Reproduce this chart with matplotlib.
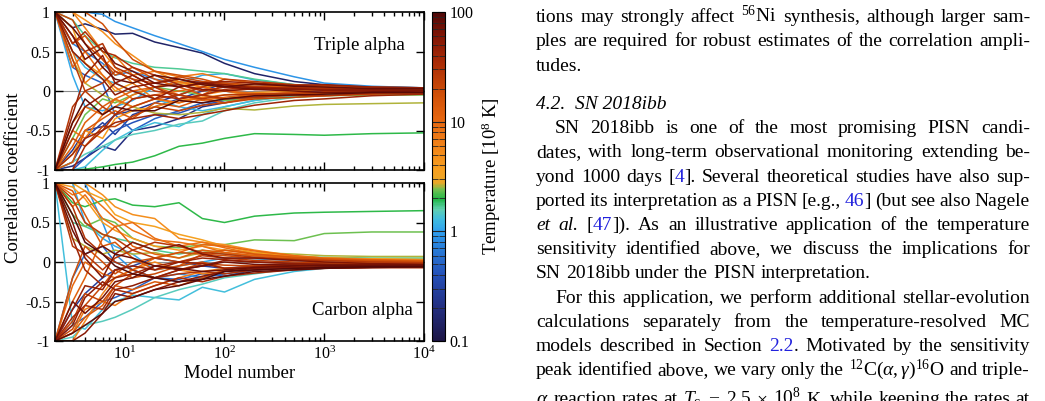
import re
import numpy as np
import matplotlib
matplotlib.use('Agg')
import matplotlib.pyplot as plt
from matplotlib.colors import LinearSegmentedColormap, LogNorm
from matplotlib.cm import ScalarMappable
from matplotlib.ticker import LogLocator, NullFormatter, LogFormatterMathtext, FuncFormatter

plt.rcParams['font.family'] = ['Liberation Serif', 'DejaVu Serif']
plt.rcParams['mathtext.fontset'] = 'custom'
plt.rcParams['mathtext.rm'] = 'Liberation Serif'
plt.rcParams['mathtext.it'] = 'Liberation Serif:italic'
plt.rcParams['mathtext.bf'] = 'Liberation Serif:bold'
plt.rcParams['axes.unicode_minus'] = False

# model number nodes
x_nodes = [2, 3, 4, 6, 8, 12, 20, 35, 60, 100, 200, 500, 1000, 3000, 10000]

# triple alpha: temperature [1e8 K] and correlation at each node
ta_temp = [2.0, 2.6, 2.4, 0.15, 0.9, 1.3, 1.5, 0.25, 0.3, 0.5, 0.7, 1.1, 1.7, 5, 8, 15, 30,
           45, 80, 40, 25, 12, 6, 4, 50, 90, 20, 35, 70, 10, 22, 18, 28, 0.4, 1.2, 7, 14,
           33, 55, 9, 3.5, 0.2]
ta_corr = [
    [-1, -1, -0.99, -0.96, -0.93, -0.9, -0.82, -0.7, -0.66, -0.6, -0.54, -0.55, -0.56, -0.54, -0.53],
    [1, 0.4, 0.1, -0.05, -0.12, -0.2, -0.28, -0.3, -0.27, -0.22, -0.24, -0.19, -0.17, -0.16, -0.15],
    [-1, -0.6, -0.3, -0.1, -0.15, -0.05, 0.05, 0.0, -0.05, -0.12, -0.1, -0.08, -0.06, -0.05, -0.05],
    [1, 0.8, 0.85, 0.78, 0.72, 0.73, 0.62, 0.55, 0.48, 0.35, 0.22, 0.12, 0.08, 0.05, 0.04],
    [1, 1, 1, 0.97, 0.88, 0.8, 0.7, 0.6, 0.5, 0.4, 0.3, 0.18, 0.1, 0.06, 0.04],
    [-1, -1, -0.96, -0.75, -0.62, -0.5, -0.4, -0.45, -0.3, -0.2, -0.12, -0.05, -0.02, 0.0, 0.02],
    [-1, -0.9, -0.8, -0.7, -0.62, -0.55, -0.5, -0.42, -0.38, -0.25, -0.15, -0.08, -0.05, -0.02, 0.0],
    [-1, -0.75, -0.5, -0.45, -0.3, -0.25, -0.15, -0.05, 0.05, 0.0, -0.05, -0.03, 0.0, 0.02, 0.02],
    [-1, -0.9, -0.6, -0.4, -0.55, -0.3, -0.2, -0.1, 0.0, 0.1, 0.05, 0.03, 0.02, 0.01, 0.02],
    [1, 0.3, 0.2, 0.1, -0.3, -0.5, -0.35, -0.25, -0.15, -0.12, -0.08, -0.06, -0.03, 0.0, 0.01],
    [1, 0.6, 0.5, 0.35, 0.2, 0.25, 0.15, 0.1, 0.12, 0.05, 0.08, 0.05, 0.04, 0.03, 0.03],
    [1, 0.2, -0.2, -0.25, -0.2, -0.12, 0.05, 0.1, 0.2, 0.22, 0.14, 0.08, 0.05, 0.03, 0.02],
    [1, 0.9, 0.7, 0.5, 0.42, 0.35, 0.3, 0.28, 0.25, 0.22, 0.15, 0.08, 0.06, 0.04, 0.03],
    [1, 1, 0.9, 0.75, 0.6, 0.45, 0.25, 0.12, 0.08, 0.1, 0.05, 0.06, 0.04, 0.03, 0.02],
    [-1, -0.5, -0.6, -0.3, -0.2, -0.05, 0.05, 0.12, 0.05, 0.0, -0.05, -0.02, -0.03, -0.01, 0.0],
    [1, 0.6, 0.7, 0.4, 0.2, 0.3, 0.15, 0.05, -0.05, 0.08, 0.06, 0.04, 0.06, 0.04, 0.03],
    [1, 0.7, 0.5, 0.6, 0.3, 0.2, 0.05, -0.1, -0.05, -0.1, -0.08, -0.05, -0.06, -0.03, -0.02],
    [-1, -0.3, 0.2, 0.45, 0.1, 0.0, -0.1, 0.05, 0.1, 0.12, 0.1, 0.07, 0.08, 0.05, 0.04],
    [1, 0.8, 0.6, 0.3, 0.15, 0.1, 0.2, 0.15, 0.08, 0.05, 0.09, 0.06, 0.05, 0.03, 0.03],
    [-1, -0.8, -0.6, -0.5, -0.4, -0.35, -0.3, -0.35, -0.3, -0.25, -0.18, -0.12, -0.1, -0.06, -0.04],
    [1, 0.4, 0.0, -0.2, -0.3, -0.2, -0.1, -0.05, 0.05, 0.15, 0.12, 0.08, 0.07, 0.05, 0.04],
    [-1, -0.7, -0.4, -0.2, -0.1, 0.0, 0.05, -0.05, -0.12, -0.08, -0.04, -0.02, -0.03, 0.0, 0.01],
    [1, 1, 0.8, 0.5, 0.3, 0.1, -0.1, -0.15, -0.05, 0.0, 0.03, 0.05, 0.03, 0.02, 0.02],
    [-1, -0.8, -0.5, -0.6, -0.35, -0.25, -0.2, -0.12, -0.08, -0.05, -0.02, 0.0, 0.02, 0.02, 0.01],
    [1, 0.5, 0.35, 0.15, -0.05, 0.05, 0.1, 0.15, 0.1, 0.08, 0.04, 0.03, 0.01, 0.02, 0.01],
    [-1, -0.4, -0.1, -0.3, -0.2, -0.25, -0.25, -0.12, -0.15, -0.1, -0.06, -0.05, -0.04, -0.02, -0.02],
    [1, 0.9, 0.6, 0.4, 0.25, 0.15, 0.1, 0.18, 0.12, 0.1, 0.08, 0.06, 0.05, 0.03, 0.02],
    [-1, -1, -0.7, -0.5, -0.3, -0.1, -0.05, -0.1, -0.05, 0.02, 0.05, 0.03, 0.02, 0.02, 0.01],
    [1, 0.7, 0.4, 0.55, 0.35, 0.25, 0.1, 0.05, 0.1, 0.06, 0.02, 0.0, -0.02, -0.01, 0.0],
    [1, 0.3, 0.5, 0.2, 0.05, -0.1, -0.05, 0.0, 0.05, 0.0, -0.03, -0.04, -0.02, -0.01, 0.0],
    [-1, -0.6, -0.7, -0.45, -0.45, -0.32, -0.2, -0.25, -0.18, -0.15, -0.1, -0.08, -0.06, -0.04, -0.03],
    [1, 1, 1, 0.85, 0.65, 0.4, 0.25, 0.2, 0.15, 0.08, 0.05, 0.04, 0.03, 0.02, 0.02],
    [-1, -0.2, 0.0, 0.1, 0.25, 0.15, 0.0, -0.05, -0.1, -0.05, -0.04, -0.03, -0.01, 0.0, 0.0],
    [-1, -1, -0.85, -0.65, -0.5, -0.4, -0.3, -0.28, -0.18, -0.12, -0.06, -0.02, 0.0, 0.01, 0.02],
    [1, 0.5, 0.3, 0.15, 0.1, 0.0, -0.1, -0.2, -0.25, -0.2, -0.12, -0.06, -0.03, 0.0, 0.01],
    [1, 0.5, 0.1, 0.3, 0.45, 0.2, 0.25, 0.18, 0.22, 0.15, 0.1, 0.07, 0.05, 0.04, 0.03],
    [-1, -0.9, -0.5, -0.35, -0.25, -0.35, -0.15, -0.2, -0.1, -0.15, -0.08, -0.05, -0.03, -0.03, -0.02],
    [1, 0.6, 0.75, 0.5, 0.45, 0.3, 0.2, 0.08, 0.0, 0.05, 0.02, 0.04, 0.03, 0.02, 0.02],
    [-1, -0.5, -0.2, -0.05, 0.1, 0.2, 0.05, 0.08, 0.02, 0.0, 0.03, 0.02, 0.01, 0.01, 0.01],
    [-1, -0.4, -0.2, -0.3, -0.1, -0.2, -0.1, -0.15, -0.08, -0.1, -0.05, -0.04, -0.02, -0.01, 0.0],
    [1, 0.8, 0.35, 0.2, 0.0, 0.1, 0.2, 0.1, 0.05, 0.08, 0.04, 0.03, 0.02, 0.02, 0.01],
    [-1, -0.95, -0.85, -0.7, -0.75, -0.5, -0.45, -0.35, -0.2, -0.15, -0.08, -0.04, -0.02, 0.0, 0.01],
]

# carbon alpha
ca_temp = [2.0, 2.4, 2.6, 1.3, 0.9, 0.6, 1.1, 1.5, 5, 8, 12, 20, 35, 60, 85, 45, 25, 6, 15,
           70, 30, 10, 4, 95, 0.3, 50, 18, 40, 7, 75, 1.7, 55, 9, 14, 28, 3.5, 0.5, 22]
ca_corr = [
    [1, 0.75, 0.7, 0.78, 0.8, 0.72, 0.7, 0.75, 0.55, 0.5, 0.58, 0.62, 0.63, 0.64, 0.65],
    [1, 0.6, 0.45, 0.55, 0.5, 0.3, 0.2, 0.18, 0.22, 0.22, 0.28, 0.27, 0.36, 0.38, 0.38],
    [1, 0.3, 0.2, 0.1, 0.15, 0.1, 0.12, 0.05, 0.12, 0.15, 0.12, 0.1, 0.08, 0.07, 0.07],
    [1, -0.8, -0.85, -0.6, -0.5, -0.42, -0.45, -0.48, -0.32, -0.38, -0.22, -0.12, -0.08, -0.05, -0.03],
    [1, 1, 1, 0.5, 0.1, -0.1, -0.2, -0.15, -0.2, -0.12, -0.08, -0.06, -0.04, -0.02, -0.01],
    [-1, -0.2, 0.1, 0.2, 0.0, -0.1, -0.2, -0.25, -0.2, -0.15, -0.1, -0.07, -0.05, -0.03, -0.02],
    [1, 1, 0.5, 0.3, 0.2, 0.1, -0.1, -0.05, 0.0, 0.05, 0.04, 0.02, 0.0, -0.01, -0.01],
    [-1, -0.95, -0.8, -0.75, -0.7, -0.6, -0.45, -0.35, -0.28, -0.2, -0.15, -0.08, -0.05, -0.03, -0.02],
    [1, 1, 1, 0.85, 0.7, 0.6, 0.55, 0.3, 0.25, 0.22, 0.15, 0.08, 0.05, 0.03, 0.02],
    [1, 0.85, 0.9, 0.7, 0.55, 0.4, 0.28, 0.25, 0.2, 0.12, 0.08, 0.03, 0.0, -0.01, -0.02],
    [-1, -0.5, -0.2, 0.3, 0.45, 0.2, 0.1, 0.05, 0.15, 0.12, 0.08, 0.05, 0.03, 0.02, 0.01],
    [-1, -0.85, -0.55, -0.3, -0.1, -0.2, -0.15, -0.05, 0.0, -0.08, -0.06, -0.06, -0.07, -0.06, -0.05],
    [-1, -0.7, -0.55, -0.6, -0.35, -0.4, -0.3, -0.2, -0.25, -0.18, -0.14, -0.1, -0.08, -0.07, -0.07],
    [1, 0.5, 0.05, -0.2, 0.1, 0.25, 0.15, 0.22, 0.1, 0.05, 0.05, 0.02, 0.0, -0.02, -0.03],
    [-1, -0.9, -0.8, -0.65, -0.5, -0.45, -0.35, -0.3, -0.22, -0.18, -0.12, -0.1, -0.08, -0.07, -0.06],
    [-1, -0.6, -0.3, -0.35, -0.1, -0.05, -0.1, 0.0, -0.02, -0.08, -0.06, -0.05, -0.04, -0.04, -0.04],
    [1, 0.8, 0.5, 0.35, 0.3, 0.15, 0.05, 0.0, 0.08, 0.05, 0.02, 0.0, -0.01, -0.02, -0.02],
    [-1, -1, -0.75, -0.4, -0.2, -0.1, 0.0, -0.1, -0.15, -0.12, -0.08, -0.05, -0.03, -0.02, -0.01],
    [1, 0.9, 0.6, 0.2, 0.25, 0.05, -0.1, -0.05, 0.1, 0.15, 0.1, 0.06, 0.04, 0.02, 0.01],
    [-1, -0.5, -0.65, -0.45, -0.25, -0.2, -0.05, -0.1, -0.05, 0.0, -0.03, -0.04, -0.05, -0.05, -0.05],
    [1, 0.7, 0.3, 0.1, 0.0, -0.1, -0.2, -0.15, -0.12, -0.15, -0.1, -0.08, -0.08, -0.07, -0.07],
    [-1, -0.3, 0.0, -0.15, -0.2, -0.1, 0.05, 0.12, 0.22, 0.2, 0.14, 0.08, 0.05, 0.03, 0.02],
    [1, 0.95, 0.8, 0.5, 0.4, 0.3, 0.2, 0.15, 0.2, 0.15, 0.1, 0.07, 0.05, 0.04, 0.03],
    [1, 0.6, 0.25, 0.1, -0.05, -0.15, -0.2, -0.25, -0.22, -0.12, -0.1, -0.08, -0.07, -0.06, -0.06],
    [-1, -0.6, -0.4, -0.2, -0.1, -0.05, 0.05, 0.0, -0.05, -0.08, -0.05, -0.03, -0.02, -0.01, -0.01],
    [-1, -0.8, -0.45, -0.25, -0.35, -0.3, -0.2, -0.1, -0.05, 0.02, 0.0, -0.02, -0.03, -0.04, -0.04],
    [-1, -0.2, 0.2, 0.0, -0.15, 0.0, 0.05, 0.12, 0.1, 0.08, 0.05, 0.04, 0.02, 0.01, 0.0],
    [1, 0.3, -0.1, -0.3, -0.2, -0.15, -0.05, 0.0, 0.05, 0.03, 0.0, -0.02, -0.03, -0.04, -0.04],
    [-1, -0.9, -0.6, -0.5, -0.55, -0.4, -0.3, -0.2, -0.12, -0.08, -0.06, -0.04, -0.03, -0.03, -0.02],
    [1, 0.4, 0.1, 0.2, 0.1, 0.05, -0.05, -0.08, -0.12, -0.1, -0.07, -0.05, -0.04, -0.04, -0.04],
    [1, 0.5, 0.45, 0.35, 0.3, 0.25, 0.15, 0.1, 0.15, 0.1, 0.08, 0.06, 0.06, 0.05, 0.05],
    [-1, -1, -0.9, -0.65, -0.4, -0.45, -0.35, -0.25, -0.18, -0.12, -0.08, -0.07, -0.06, -0.06, -0.05],
    [1, 0.7, 0.85, 0.55, 0.45, 0.5, 0.3, 0.2, 0.25, 0.18, 0.1, 0.06, 0.04, 0.02, 0.01],
    [-1, -0.9, -0.7, -0.55, -0.3, -0.35, -0.25, -0.3, -0.2, -0.1, -0.05, -0.04, -0.03, -0.03, -0.03],
    [1, 0.2, 0.1, -0.1, 0.05, 0.15, 0.25, 0.2, 0.12, 0.1, 0.06, 0.03, 0.02, 0.0, -0.01],
    [1, 1, 0.9, 0.8, 0.6, 0.5, 0.45, 0.35, 0.28, 0.2, 0.12, 0.07, 0.05, 0.04, 0.03],
    [-1, -0.8, -0.7, -0.5, -0.45, -0.35, -0.2, -0.22, -0.15, -0.18, -0.1, -0.06, -0.03, -0.02, -0.02],
    [-1, -0.75, -0.4, -0.5, -0.3, -0.15, -0.2, -0.1, -0.02, -0.04, -0.05, -0.04, -0.04, -0.03, -0.03],
]

cbar_ticks = [0.1, 1, 10, 100]
cbar_ticklabels = ['0.1', '1', '10', '100']

# paper text next to the figure: (baseline px, left px, justified, text)
# @..@ = blue reference, *..* = italic
body_lines = [
    (22, 536, True, "tions may strongly affect $^{56}$Ni synthesis, although larger sam-"),
    (46, 536, True, "ples are required for robust estimates of the correlation ampli-"),
    (71, 536, False, "tudes."),
    (133, 555, True, "SN 2018ibb is one of the most promising PISN candi-"),
    (157, 536, True, "dates, with long-term observational monitoring extending be-"),
    (182, 536, True, "yond 1000 days [@4@]. Several theoretical studies have also sup-"),
    (206, 536, True, "ported its interpretation as a PISN [e.g., @46@] (but see also Nagele"),
    (230, 536, True, "*et* *al.* [@47@]). As an illustrative application of the temperature"),
    (254, 536, True, "sensitivity identified above, we discuss the implications for"),
    (278, 536, False, "SN 2018ibb under the PISN interpretation."),
    (303, 555, True, "For this application, we perform additional stellar-evolution"),
    (327, 536, True, "calculations separately from the temperature-resolved MC"),
    (351, 536, True, "models described in Section @2.2@. Motivated by the sensitivity"),
    (375, 536, True, "peak identified above, we vary only the $^{12}$C($\\alpha,\\gamma$)$^{16}$O and triple-"),
    (404, 536, True, "$\\alpha$ reaction rates at $T_{\\mathrm{c}}$ $=$ $2.5$ $\\times$ $10^{8}$ K, while keeping the rates at"),
]
heading = (109, 536, "4.2.  SN 2018ibb")

W, H = 1045, 401
BODY = 14.0
LAB = 13.5
TICK = 11.5

cmap = LinearSegmentedColormap.from_list('temp', [
    (0.00, '#1c1545'), (0.10, '#232e80'), (0.20, '#2450b8'), (0.30, '#2a88e0'),
    (0.333, '#30a0ee'), (0.37, '#40bde0'), (0.40, '#60d0b0'), (0.43, '#20b848'),
    (0.46, '#70c050'), (0.48, '#e8a828'), (0.52, '#f8a020'), (0.60, '#f08018'),
    (0.667, '#e86810'), (0.75, '#d05008'), (0.85, '#a82a06'), (0.93, '#801505'),
    (1.00, '#500808')])
norm = LogNorm(vmin=0.1, vmax=100)


def px_rect(l, t, r, b):
    return [l / W, 1 - b / H, (r - l) / W, (b - t) / H]


fig = plt.figure(figsize=(W / 100, H / 100), dpi=100)
ax1 = fig.add_axes(px_rect(55, 12, 424, 170))
ax2 = fig.add_axes(px_rect(55, 183, 424, 341))
cax = fig.add_axes(px_rect(432, 12, 445, 341))

for ax, temps, corr in [(ax1, ta_temp, ta_corr), (ax2, ca_temp, ca_corr)]:
    ax.axhline(0, color='0.55', lw=0.8, zorder=0)
    for i in np.argsort(temps):
        ax.plot(x_nodes, corr[i], color=cmap(norm(temps[i])), lw=1.1)
    ax.set_xscale('log')
    ax.set_xlim(2, 1e4)
    ax.set_ylim(-1, 1)
    ax.set_yticks([-1, -0.5, 0, 0.5, 1])
    ax.yaxis.set_major_formatter(FuncFormatter(lambda v, p: f'{v:g}'))
    ax.xaxis.set_major_locator(LogLocator(base=10, numticks=10))
    ax.xaxis.set_minor_locator(LogLocator(base=10, subs=np.arange(2, 10), numticks=20))
    ax.xaxis.set_minor_formatter(NullFormatter())
    ax.xaxis.set_major_formatter(LogFormatterMathtext())
    ax.tick_params(which='both', direction='in', top=True, right=True, labelsize=TICK, width=1)
    ax.tick_params(which='major', length=6)
    ax.tick_params(which='minor', length=3)
    for s in ax.spines.values():
        s.set_linewidth(1.2)

ax1.tick_params(labelbottom=False)
ax1.text(0.824, 0.79, 'Triple alpha', transform=ax1.transAxes, ha='center', va='center', fontsize=LAB)
ax2.text(0.832, 0.196, 'Carbon alpha', transform=ax2.transAxes, ha='center', va='center', fontsize=LAB)
ax2.set_xlabel('Model number', fontsize=LAB, labelpad=1)
fig.text(0.013, 0.556, 'Correlation coefficient', rotation=90, ha='center', va='center', fontsize=LAB)

cb = fig.colorbar(ScalarMappable(norm=norm, cmap=cmap), cax=cax)
cb.set_ticks(cbar_ticks)
cb.set_ticklabels(cbar_ticklabels)
cax.tick_params(which='both', direction='in', left=True, right=True, labelsize=TICK, color='0.15')
cax.tick_params(which='major', length=5)
cax.tick_params(which='minor', length=4)
cb.outline.set_linewidth(0.8)
cb.set_label('Temperature [10$^8$ K]', fontsize=LAB, labelpad=4)

# text column
renderer = fig.canvas.get_renderer()


def put_line(ypx, x0, justify, s, x1=1030):
    built = []
    for w in s.split(' '):
        items = []
        for p in re.split(r'(@[^@]*@|\*[^*]*\*)', w):
            if not p:
                continue
            col, sty = 'black', 'normal'
            if p.startswith('@'):
                p, col = p[1:-1], '#2222dd'
            elif p.startswith('*'):
                p, sty = p[1:-1], 'italic'
            items.append(fig.text(0, 1 - ypx / H, p, color=col, style=sty,
                                  fontsize=BODY, va='baseline', ha='left'))
        built.append(items)
    widths = [[t.get_window_extent(renderer).width for t in items] for items in built]
    total = sum(sum(ws) for ws in widths)
    if justify and len(built) > 1:
        gap = (x1 - x0 - total) / (len(built) - 1)
    else:
        gap = BODY * 0.25 * 100 / 72
    x = x0
    for items, ws in zip(built, widths):
        for t, w in zip(items, ws):
            t.set_x(x / W)
            x += w
        x += gap


for ypx, x0, just, s in body_lines:
    put_line(ypx, x0, just, s)
fig.text(heading[1] / W, 1 - heading[0] / H, heading[2], style='italic', fontsize=BODY, va='baseline')

fig.savefig('out.png', dpi=100)
